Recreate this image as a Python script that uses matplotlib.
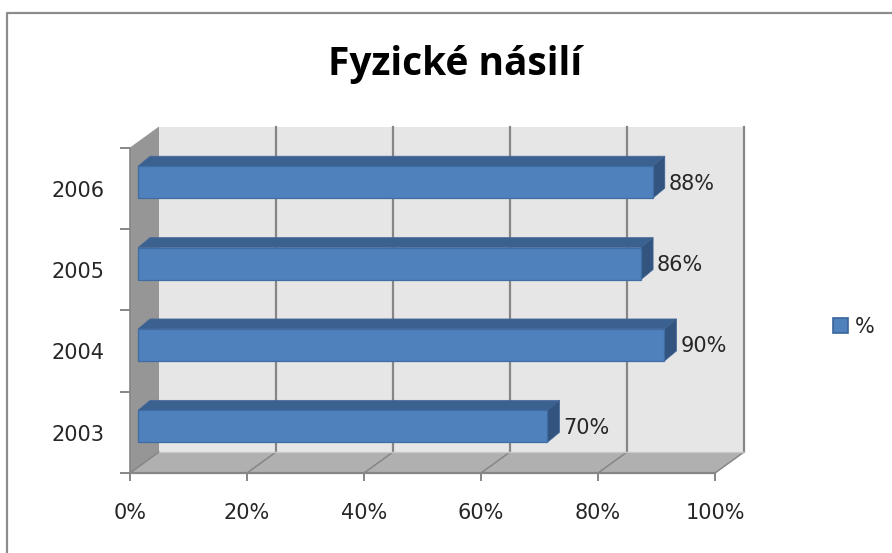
import matplotlib
matplotlib.use("Agg")
import matplotlib.pyplot as plt
from matplotlib.patches import Polygon, Patch
from matplotlib.lines import Line2D
from matplotlib.transforms import ScaledTranslation

years = ["2003", "2004", "2005", "2006"]
values = [70, 90, 86, 88]
xticks = [0, 20, 40, 60, 80, 100]

W, H = 892, 553
TXT = "#262626"
plt.rcParams["font.family"] = ["DejaVu Sans"]

fig = plt.figure(figsize=(W / 100, H / 100), dpi=100, facecolor="white")
L, R, T, B = 130, 715, 147.5, 473
ax = fig.add_axes([L / W, 1 - B / H, (R - L) / W, (B - T) / H])
ax.set_xlim(0, 100)
ax.set_ylim(0, len(years))
ax.patch.set_visible(False)
for s in ax.spines.values():
    s.set_visible(False)

px = 100 / (R - L)          # data units per pixel, x
py = len(years) / (B - T)   # data units per pixel, y
DX, DY = 29 * px, 21 * py   # wall depth
ny = len(years)


def poly(pts, fc, ec="none", lw=0, z=1):
    ax.add_patch(Polygon(pts, closed=True, facecolor=fc, edgecolor=ec, linewidth=lw,
                         zorder=z, clip_on=False))


# walls
poly([(0, 0), (DX, DY), (DX, ny + DY), (0, ny)], "#969696", z=1)
poly([(DX, DY), (100 + DX, DY), (100 + DX, ny + DY), (DX, ny + DY)], "#e6e6e6", z=1)
poly([(0, 0), (100, 0), (100 + DX, DY), (DX, DY)], "#b0b0b0", z=1)

# gridlines and wall outlines
GC = "#868686"
for x in xticks:
    ax.plot([x, x + DX], [0, DY], color=GC, lw=1.1, zorder=2, clip_on=False)
    if x > 0:
        ax.plot([x + DX, x + DX], [DY, ny + DY], color=GC, lw=1.6, zorder=2, clip_on=False)
ax.plot([0, 100], [0, 0], color=GC, lw=1.6, zorder=2, clip_on=False)
ax.plot([0, 0], [0, ny], color=GC, lw=1.2, zorder=2, clip_on=False)
ax.plot([DX, 100 + DX], [DY, DY], color="#c8c8c8", lw=1, zorder=2, clip_on=False)

# bars
OX, OY = 8 * px, 6 * py       # bar inset on the floor
BAR_H = 32 * py
BDX, BDY = 12 * px, 10 * py   # bar depth
FRONT, TOP, SIDE = "#4f81bd", "#3b6190", "#32547f"
scale = 5.85 * px
for i, v in enumerate(values):
    y0 = i + 0.5 - BAR_H / 2 + OY
    y1 = y0 + BAR_H
    x1 = OX + v * scale
    poly([(OX, y1), (x1, y1), (x1 + BDX, y1 + BDY), (OX + BDX, y1 + BDY)], TOP, "#49699a", 0.5, z=3)
    poly([(x1, y0), (x1 + BDX, y0 + BDY), (x1 + BDX, y1 + BDY), (x1, y1)], SIDE, "#3d6493", 0.5, z=3)
    ax.barh(y0 + BAR_H / 2, v * scale, height=BAR_H, left=OX, color=FRONT,
            edgecolor="#3f6da3", linewidth=0.9, zorder=4, clip_on=False)
    ax.text(x1 + 16 * px, y0 + BAR_H / 2 - 1.5 * py, f"{v}%", ha="left", va="center",
            fontsize=15, color=TXT, zorder=5)

# axes ticks
ax.set_xticks(xticks)
ax.set_xticklabels([f"{x}%" for x in xticks], fontsize=15, color=TXT)
ax.tick_params(axis="x", length=6, width=1.4, color=GC, pad=15.5)
ax.set_yticks(range(ny + 1))
ax.set_yticklabels([])
ax.set_yticks([i + 0.5 for i in range(ny)], labels=years, minor=True, fontsize=15, color=TXT)
ax.tick_params(axis="y", which="major", length=7, width=1.4, color=GC)
ax.tick_params(axis="y", which="minor", length=0, pad=18.5)
nudge = ScaledTranslation(0, -0.5 / 100, fig.dpi_scale_trans)
for lab in ax.get_yticklabels(minor=True):
    lab.set_transform(lab.get_transform() + nudge)

# title
fig.text(455 / W, 1 - 64 / H, "Fyzické násilí", ha="center", va="center",
         fontsize=28, fontweight="bold", color="black", family="Open Sans")

# legend
leg = fig.legend(handles=[Patch(facecolor=FRONT, edgecolor="#3a659b", linewidth=1.2, label="%")],
                 loc="center left", bbox_to_anchor=(814 / W, 1 - 327 / H), frameon=False,
                 fontsize=15, handlelength=0.75, handleheight=0.7, handletextpad=0.3, labelcolor=TXT)

# chart border
BC = "#8c8c8c"
fig.add_artist(Line2D([7 / W, 7 / W, 1], [0, 1 - 13 / H, 1 - 13 / H], color=BC, lw=1.6,
                      transform=fig.transFigure))

fig.savefig("out.png", dpi=100)
